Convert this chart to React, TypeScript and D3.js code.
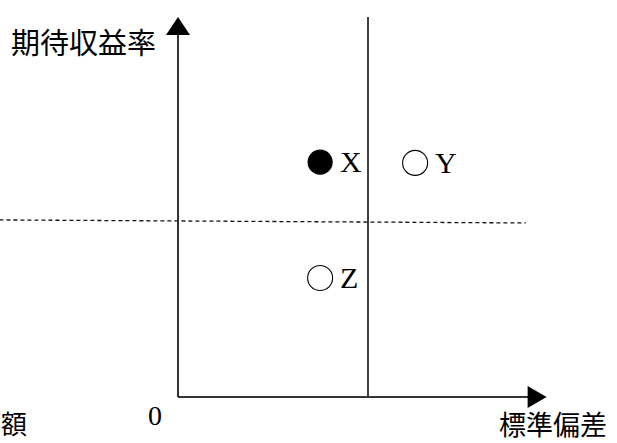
import React from "react";
import * as d3 from "d3";

const W = 617;
const H = 443;

// Portfolios: standard deviation (x) vs expected return (y), in axis units
const pointNames = ["X", "Y", "Z"];
const pointSd = [3.74, 6.24, 3.74];
const pointRet = [6.18, 6.16, 3.13];
const pointFilled = [true, false, false];

// Reference lines
const verticalSd = 5.0;
const dashedSd = [-4.7, 9.15];
const dashedRet = [4.66, 4.58];

const axisTitles = { y: "期待収益率", x: "標準偏差", origin: "0", cut: "額" };

export default function App() {
  const x = d3.scaleLinear().domain([0, 10]).range([178, 558]);
  const y = d3.scaleLinear().domain([0, 10]).range([397, 17]);

  const x0 = x(0);
  const y0 = y(0);
  const yTop = y(10);
  const xEnd = x(9.7);

  const dashLine = d3
    .line<number>()
    .x((_, i) => x(dashedSd[i]))
    .y((_, i) => y(dashedRet[i]));

  const serif = "'Liberation Serif', 'DejaVu Serif', serif";
  const cjk = "'Noto Sans CJK JP', sans-serif";
  const col = "#111";

  return (
    <svg
      width={W}
      height={H}
      style={{ position: "absolute", left: 0, top: 0, background: "#fff" }}
    >
      {/* dashed horizontal line */}
      <path
        d={dashLine(dashedSd) || ""}
        fill="none"
        stroke={col}
        strokeWidth={1.3}
        strokeDasharray="4,3"
      />
      {/* vertical line */}
      <line
        x1={x(verticalSd)}
        x2={x(verticalSd)}
        y1={yTop}
        y2={y0}
        stroke={col}
        strokeWidth={1.6}
      />
      {/* y axis */}
      <line x1={x0} x2={x0} y1={y0} y2={yTop + 12} stroke="#333" strokeWidth={2} />
      <path
        d={`M${x0},${yTop} L${x0 - 12},${yTop + 18} L${x0 + 12},${yTop + 18} Z`}
        fill="#000"
      />
      {/* x axis */}
      <line x1={x0} x2={xEnd - 14} y1={y0} y2={y0} stroke="#333" strokeWidth={2} />
      <path
        d={`M${xEnd},${y0} L${xEnd - 19},${y0 - 11} L${xEnd - 19},${y0 + 11} Z`}
        fill="#000"
      />

      {/* points */}
      {pointNames.map((n, i) => (
        <g key={n}>
          <circle
            cx={x(pointSd[i])}
            cy={y(pointRet[i])}
            r={pointFilled[i] ? 12 : 12.5}
            fill={pointFilled[i] ? "#000" : "#fff"}
            stroke="#000"
            strokeWidth={1.1}
          />
          <text
            x={x(pointSd[i]) + 20}
            y={y(pointRet[i]) + 10}
            fontFamily={serif}
            fontSize={30}
            fill="#000"
          >
            {n}
          </text>
        </g>
      ))}

      {/* titles */}
      <text x={11} y={54} fontFamily={cjk} fontSize={29} fill="#000">
        {axisTitles.y}
      </text>
      <text x={499} y={435} fontFamily={cjk} fontSize={27} fill="#000">
        {axisTitles.x}
      </text>
      <text x={155} y={425} textAnchor="middle" fontFamily={serif} fontSize={28} fill="#000">
        {axisTitles.origin}
      </text>
      <text x={1} y={434} fontFamily={cjk} fontSize={26} fill="#000">
        {axisTitles.cut}
      </text>
    </svg>
  );
}
